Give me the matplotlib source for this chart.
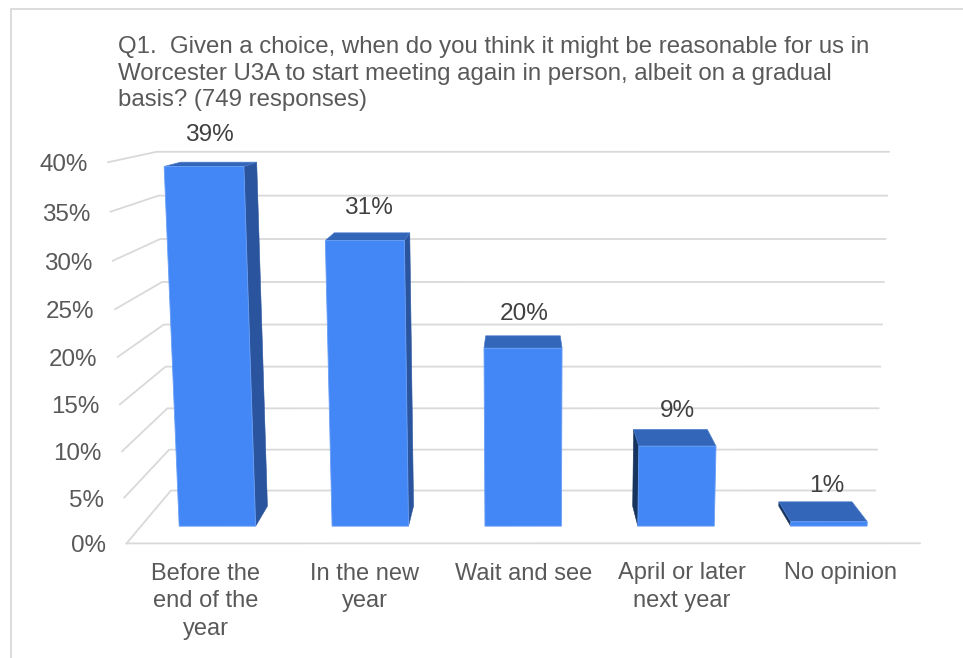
import numpy as np
import matplotlib
matplotlib.use('Agg')
import matplotlib.pyplot as plt
from matplotlib.patches import Polygon

title = ('Q1.  Given a choice, when do you think it might be reasonable for us in\n'
         'Worcester U3A to start meeting again in person, albeit on a gradual\n'
         'basis? (749 responses)')
categories = ['Before the\nend of the\nyear', 'In the new\nyear', 'Wait and see',
              'April or later\nnext year', 'No opinion']
values = [39.2, 31.4, 19.8, 9, 0.5]
ticks = [0, 5, 10, 15, 20, 25, 30, 35, 40]

plt.rcParams['font.family'] = ['Liberation Sans', 'DejaVu Sans']

# fake 3D box: fit a camera from where the box corners sit in the picture
# (category pos, value, depth) -> pixel
box = [(0, 0, 0, 127, 543), (5, 0, 0, 920, 543), (0, 0, 1, 171, 491), (5, 0, 1, 875, 491),
       (0, 40, 0, 108, 162), (0, 40, 1, 157, 152), (5, 40, 1, 889, 152), (0, 20, 0, 117, 358),
       (0, 20, 1, 164, 324), (0, 10, 1, 167, 408), (0, 30, 1, 160, 239), (5, 20, 1, 882, 324)]
rows, rhs = [], []
for x, y, z, u, v in box:
    rows.append([x, y, z, 1, 0, 0, 0, 0, -u * x, -u * y, -u * z])
    rhs.append(u)
    rows.append([0, 0, 0, 0, x, y, z, 1, -v * x, -v * y, -v * z])
    rhs.append(v)
cam = np.linalg.lstsq(np.array(rows, float), np.array(rhs, float), rcond=None)[0]


def project(x, y, z):
    w = cam[8] * x + cam[9] * y + cam[10] * z + 1
    return ((cam[0] * x + cam[1] * y + cam[2] * z + cam[3]) / w,
            (cam[4] * x + cam[5] * y + cam[6] * z + cam[7]) / w)


fig = plt.figure(figsize=(9.63, 6.58), dpi=100)
ax = fig.add_axes([0, 0, 1, 1])
ax.set_xlim(0, 963)
ax.set_ylim(658, 0)
ax.axis('off')

# outer frame
ax.plot([11, 11, 963], [658, 8.5, 8.5], color='#d9d9d9', lw=1.3, zorder=1)

grid = '#d9d9d9'
for t in ticks:
    pts = [project(0, t, 0), project(0, t, 1), project(5, t, 1)]
    ax.plot([p[0] for p in pts], [p[1] for p in pts], color=grid, lw=1.3, zorder=1,
            solid_joinstyle='miter')
    fx, fy = project(0, t, 0)
    ax.text(fx - 20.5, fy + 3, '%d%%' % t, ha='right', va='center', fontsize=17.4, color='#595959')
ax.plot(*zip(project(0, 0, 0), project(5, 0, 0)), color=grid, lw=1.3, zorder=1)

front_c = '#4387f6'
top_c = '#3366b8'
right_c = '#2a559e'
left_c = '#17345f'
edge_c = '#6a9ff5'
hw = 0.25
d0, d1 = 0.3, 0.68

for i, val in enumerate(values):
    c = i + 0.5
    l, r = c - hw, c + hw
    # sides first, then top, front last
    if project(l, 0, d1)[0] < project(l, 0, d0)[0]:
        side = [project(l, 0, d0), project(l, 0, d1), project(l, val, d1), project(l, val, d0)]
        ax.add_patch(Polygon(side, fc=left_c, ec=left_c, lw=0.4, zorder=3))
    if project(r, 0, d1)[0] > project(r, 0, d0)[0]:
        side = [project(r, 0, d0), project(r, 0, d1), project(r, val, d1), project(r, val, d0)]
        ax.add_patch(Polygon(side, fc=right_c, ec=right_c, lw=0.4, zorder=3))
    top = [project(l, val, d0), project(l, val, d1), project(r, val, d1), project(r, val, d0)]
    ax.add_patch(Polygon(top, fc=top_c, ec='#4a7bcb', lw=0.5, zorder=4))
    front = [project(l, 0, d0), project(l, val, d0), project(r, val, d0), project(r, 0, d0)]
    ax.add_patch(Polygon(front, fc=front_c, ec=edge_c, lw=0.6, zorder=5))

    lx, ly = project(c, val, 0.4)
    ax.text(lx + 1.5, ly - 30.5, '%.0f%%' % max(val, 1), ha='center', va='center', fontsize=17.6,
            color='#404040', zorder=6)
    cx = project(c, 0, 0)[0]
    ax.text(cx, 562.5, categories[i], ha='center', va='top', fontsize=17, color='#595959',
            linespacing=1.35)

ax.text(118, 36, title, ha='left', va='top', fontsize=17.3, color='#595959', linespacing=1.27)

fig.savefig('out.png', dpi=100)
